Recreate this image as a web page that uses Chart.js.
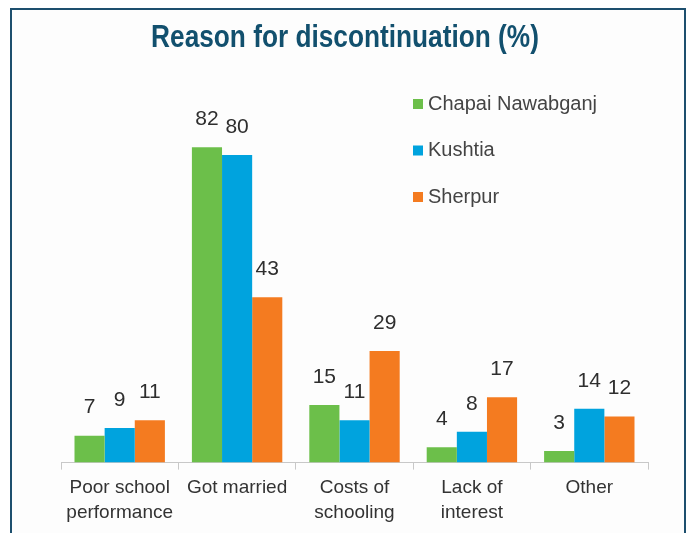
<!DOCTYPE html>
<html>
<head>
<meta charset="utf-8">
<script src="https://cdn.jsdelivr.net/npm/chart.js@4"></script>
<style>
  html, body { margin: 0; padding: 0; background: #ffffff; }
  #wrap { position: relative; width: 688px; height: 533px; overflow: hidden; }
  #frame {
    position: absolute; left: 10px; top: 8px; width: 672px; height: 600px;
    border: 2px solid #1d4f6e; background: #fdfdfd;
  }
  canvas { position: absolute; left: 0; top: 0; }
</style>
</head>
<body>
<div id="wrap">
  <div id="frame"></div>
  <canvas id="chart" width="688" height="533"></canvas>
</div>
<script>
"use strict";

// ── Data ──────────────────────────────────────────────────────────────────────
const categories = [
  ["Poor school", "performance"],
  "Got married",
  ["Costs of", "schooling"],
  ["Lack of", "interest"],
  "Other",
];
const seriesNames   = ["Chapai Nawabganj", "Kushtia", "Sherpur"];
const chapaiValues  = [7, 82, 15, 4, 3];
const kushtiaValues = [9, 80, 11, 8, 14];
const sherpurValues = [11, 43, 29, 17, 12];

const titleText = "Reason for discontinuation (%)";
const colors = ["#6cbf4a", "#00a3de", "#f47b20"];

// ── Plugins ───────────────────────────────────────────────────────────────────
// narrow-looking title: draw squeezed horizontally
const squeezedTitle = {
  id: "squeezedTitle",
  afterDraw(chart) {
    const ctx = chart.ctx;
    ctx.save();
    ctx.font = "bold 32px 'Liberation Sans', Arial, sans-serif";
    ctx.fillStyle = "#12506e";
    ctx.textAlign = "center";
    ctx.textBaseline = "middle";
    ctx.translate(345, 38);
    ctx.scale(0.82, 1);
    ctx.fillText(titleText, 0, 0);
    ctx.restore();
  },
};

const valueLabels = {
  id: "valueLabels",
  afterDatasetsDraw(chart) {
    const ctx = chart.ctx;
    ctx.save();
    ctx.font = "21px 'Liberation Sans', Arial, sans-serif";
    ctx.fillStyle = "#2e2e2e";
    ctx.textAlign = "center";
    ctx.textBaseline = "middle";
    chart.data.datasets.forEach((ds, i) => {
      chart.getDatasetMeta(i).data.forEach((bar, j) => {
        ctx.fillText(ds.data[j], bar.x, bar.y - 28);
      });
    });
    ctx.restore();
  },
};

const sideLegend = {
  id: "sideLegend",
  afterDraw(chart) {
    const ctx = chart.ctx;
    ctx.save();
    ctx.font = "20px 'Liberation Sans', Arial, sans-serif";
    ctx.textBaseline = "middle";
    chart.data.datasets.forEach((ds, i) => {
      const y = 104 + i * 46.5;
      ctx.fillStyle = ds.backgroundColor;
      ctx.fillRect(413, y - 5, 10, 10);
      ctx.fillStyle = "#444444";
      ctx.fillText(ds.label, 428, y);
    });
    ctx.restore();
  },
};

// ── Chart ─────────────────────────────────────────────────────────────────────
const ctx = document.getElementById("chart").getContext("2d");
new Chart(ctx, {
  type: "bar",
  data: {
    labels: categories,
    datasets: [
      { label: seriesNames[0], data: chapaiValues,  backgroundColor: colors[0] },
      { label: seriesNames[1], data: kushtiaValues, backgroundColor: colors[1] },
      { label: seriesNames[2], data: sherpurValues, backgroundColor: colors[2] },
    ],
  },
  options: {
    responsive: false,
    animation: false,
    layout: { padding: { left: 61, right: 40, top: 78, bottom: 2 } },
    datasets: { bar: { categoryPercentage: 0.77, barPercentage: 1.0 } },
    plugins: {
      legend:  { display: false },
      tooltip: { enabled: false },
      title:   { display: false },
    },
    scales: {
      x: {
        grid: {
          offset: true,
          drawOnChartArea: false,
          drawTicks: true,
          tickLength: 7,
          color: "#c8c8c8",
        },
        border: { display: true, color: "#c8c8c8", width: 1 },
        ticks: {
          color: "#333333",
          padding: 6,
          maxRotation: 0,
          autoSkip: false,
          font: { family: "'Liberation Sans', Arial, sans-serif", size: 19, lineHeight: 1.3 },
        },
      },
      y: {
        display: false,
        min: 0,
        max: 100,
      },
    },
  },
  plugins: [valueLabels, sideLegend, squeezedTitle],
});
</script>
</body>
</html>
